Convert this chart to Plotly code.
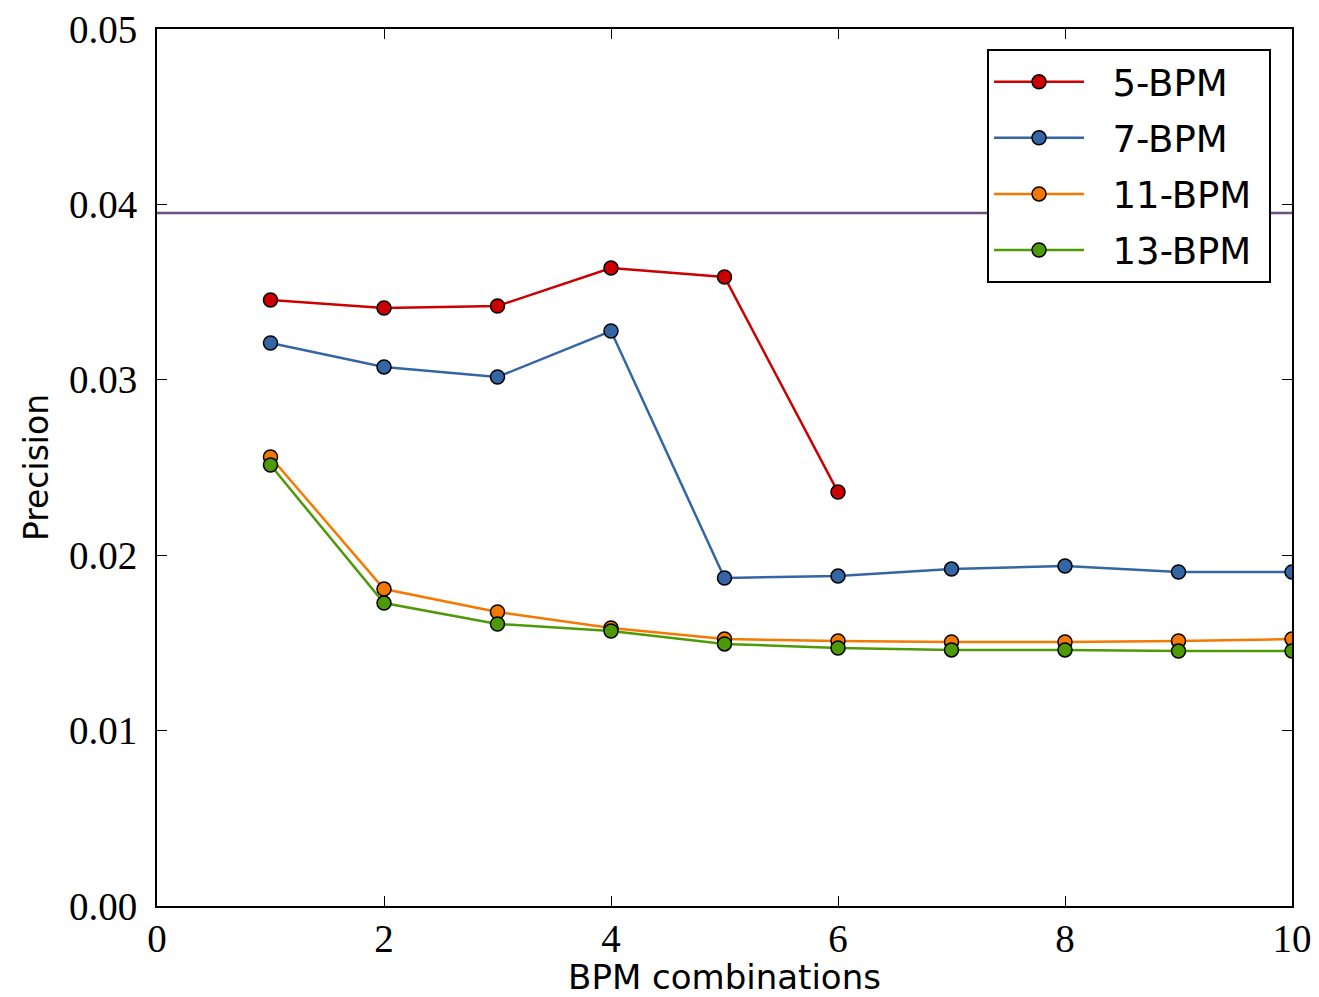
import plotly.graph_objects as go

x5 = [1, 2, 3, 4, 5, 6]
y5 = [0.03455, 0.03409, 0.03421, 0.03637, 0.03586, 0.02360]

x7 = [1, 2, 3, 4, 5, 6, 7, 8, 9, 10]
y7 = [0.03210, 0.03073, 0.03016, 0.03278, 0.01870, 0.01881, 0.01921, 0.01938, 0.01904, 0.01904]

x11 = [1, 2, 3, 4, 5, 6, 7, 8, 9, 10]
y11 = [0.02560, 0.01807, 0.01676, 0.01585, 0.01522, 0.01511, 0.01505, 0.01505, 0.01511, 0.01522]

x13 = [1, 2, 3, 4, 5, 6, 7, 8, 9, 10]
y13 = [0.02514, 0.01727, 0.01608, 0.01568, 0.01494, 0.01471, 0.01460, 0.01460, 0.01454, 0.01454]

threshold = 0.03951
x_ticks = [0, 2, 4, 6, 8, 10]
y_ticks = [0.00, 0.01, 0.02, 0.03, 0.04, 0.05]

series = [
    ("5-BPM", x5, y5, "#cc0000"),
    ("7-BPM", x7, y7, "#3465a4"),
    ("11-BPM", x11, y11, "#f57900"),
    ("13-BPM", x13, y13, "#4e9a06"),
]

fig = go.Figure()

fig.add_trace(go.Scatter(
    x=[0, 10], y=[threshold, threshold], mode="lines",
    line=dict(color="#6b4f7f", width=2.5), showlegend=False, hoverinfo="skip"))

for i, (name, xs, ys, col) in enumerate(series):
    fig.add_trace(go.Scatter(
        x=xs, y=ys, mode="lines+markers", name="\u00a0\u00a0" + name + "\u00a0",
        legendgroup=f"g{i}",
        line=dict(color=col, width=2.5),
        marker=dict(size=14, color=col, line=dict(color="black", width=1.5)),
    ))

serif = "Liberation Serif, DejaVu Serif, serif"
sans = "DejaVu Sans, sans-serif"

axis_common = dict(
    showgrid=False, zeroline=False, showline=True, linecolor="black", linewidth=2,
    mirror="ticks", ticks="inside", ticklen=10, tickwidth=1, tickcolor="black",
    tickfont=dict(family=serif, size=39, color="black"), automargin=False,
    ticklabeloverflow="allow",
)

# page body has an 8px default margin; compensate so the plot sits like the reference
fig.update_layout(
    width=1311, height=989,
    margin=dict(l=149, r=27, t=21, b=91),
    plot_bgcolor="white", paper_bgcolor="white",
    xaxis=dict(range=[0, 10], tickvals=x_ticks, ticktext=[str(v) for v in x_ticks],
               ticklabelstandoff=-3,
               title=dict(text="BPM combinations", font=dict(family=sans, size=34, color="black"), standoff=2),
               **axis_common),
    yaxis=dict(range=[0, 0.05], tickvals=y_ticks, ticktext=[f"{v:.2f}" for v in y_ticks],
               ticklabelstandoff=10,
               title=dict(text="Precision", font=dict(family=sans, size=33, color="black"), standoff=10),
               **axis_common),
    legend=dict(x=0.7313, y=0.977, xanchor="left", yanchor="top",
                bgcolor="white", bordercolor="black", borderwidth=2,
                font=dict(family=sans, size=37, color="black"),
                itemwidth=90, tracegroupgap=5, traceorder="grouped"),
    showlegend=True,
)

fig.write_html("out.html")
